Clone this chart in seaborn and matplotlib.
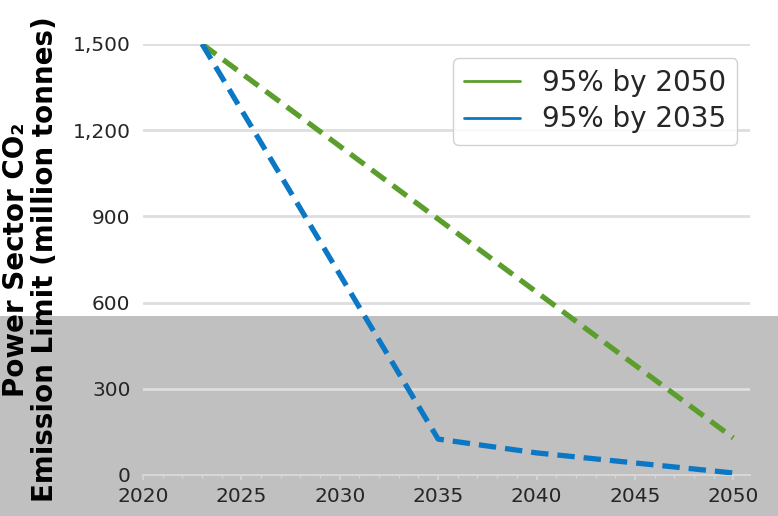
import matplotlib
matplotlib.use("Agg")
import matplotlib.pyplot as plt
from matplotlib.lines import Line2D
from matplotlib.patches import Rectangle
from matplotlib.ticker import MultipleLocator, StrMethodFormatter
import seaborn as sns
import pandas as pd

# Emission-limit pathways (million tonnes CO2)
years_by_2035 = [2023, 2035, 2040, 2045, 2050]
limit_by_2035 = [1500, 125, 77, 42, 7]
years_by_2050 = [2023, 2050]
limit_by_2050 = [1500, 129]

series_labels = ["95% by 2050", "95% by 2035"]
series_colors = ["#5b9e2d", "#0a78c4"]
x_ticks = [2020, 2025, 2030, 2035, 2040, 2045, 2050]
y_ticks = [0, 300, 600, 900, 1200, 1500]

sns.set_theme(style="whitegrid")
plt.rcParams["font.family"] = ["DejaVu Sans"]

fig = plt.figure(figsize=(7.78, 5.16), dpi=100)
fig.patch.set_facecolor("white")
ax = fig.add_axes([143 / 778, 41 / 516, (750 - 143) / 778, (475 - 44) / 516])
ax.set_facecolor("none")

# grey lower band behind the plot
fig.patches.append(Rectangle((0, 0), 1, 200 / 516, transform=fig.transFigure,
                             facecolor="#c0c0c0", edgecolor="none", zorder=-1))

df_2050 = pd.DataFrame({"year": years_by_2050, "limit": limit_by_2050})
df_2035 = pd.DataFrame({"year": years_by_2035, "limit": limit_by_2035})

dash = (0, (3.3, 1.7))
sns.lineplot(data=df_2050, x="year", y="limit", color=series_colors[0],
             lw=3.8, ls=dash, ax=ax, zorder=3)
sns.lineplot(data=df_2035, x="year", y="limit", color=series_colors[1],
             lw=3.8, ls=dash, ax=ax, zorder=3)

ax.set_xlim(2020, 2050.85)
ax.set_ylim(0, 1500)
ax.set_xticks(x_ticks)
ax.set_yticks(y_ticks)
ax.xaxis.set_minor_locator(MultipleLocator(1))
ax.yaxis.set_major_formatter(StrMethodFormatter("{x:,.0f}"))

ax.grid(axis="x", visible=False)
ax.grid(axis="y", color="#dedede", lw=2)
for side in ["left", "right", "top"]:
    ax.spines[side].set_visible(False)
ax.spines["bottom"].set_color("#d6d6d6")
ax.spines["bottom"].set_linewidth(1.5)

ax.tick_params(axis="x", which="major", bottom=True, length=3.6, width=1.2,
               color="#d6d6d6", labelsize=14.5, pad=5, labelcolor="#262626")
ax.tick_params(axis="x", which="minor", bottom=True, length=2.2, width=1,
               color="#d6d6d6")
ax.tick_params(axis="y", left=False, length=0, labelsize=14.5, pad=9,
               labelcolor="#262626")

ax.set_xlabel("")
ax.set_ylabel("Power Sector CO₂\nEmission Limit (million tonnes)",
              fontsize=20, fontweight="bold", color="black", linespacing=1.05)
ax.yaxis.set_label_coords(-0.138, 0.5)

handles = [Line2D([0], [0], color=c, lw=2) for c in series_colors]
leg = ax.legend(handles, series_labels, loc="upper right",
                bbox_to_anchor=(0.979, 0.9675), borderaxespad=0,
                fontsize=20, labelspacing=0.3, handlelength=2.0,
                frameon=True, fancybox=True)
leg.get_frame().set_edgecolor("#cccccc")
leg.get_frame().set_facecolor("white")
leg.get_frame().set_alpha(0.9)

fig.savefig("out.png", dpi=100)
